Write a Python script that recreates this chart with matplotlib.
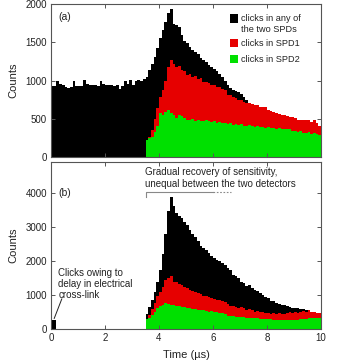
import numpy as np
import matplotlib
matplotlib.use("Agg")
import matplotlib.pyplot as plt
from matplotlib.patches import Rectangle

plt.rcParams['font.family'] = ['Liberation Sans', 'DejaVu Sans']

# histogram bins: 0.1 us wide, 0 .. 10 us
time_edges = np.arange(101) * 0.1

# panel (a)
any_a = [925, 925, 1000, 960, 940, 910, 905, 910, 990, 925,
         925, 930, 1010, 955, 935, 935, 940, 925, 990, 950,
         940, 935, 935, 930, 935, 895, 925, 990, 960, 1005,
         940, 1000, 1005, 990, 1025,
         1050, 1140, 1220, 1310, 1420, 1550, 1660, 1770, 1880, 1940,
         1745, 1725, 1700, 1600, 1510, 1485, 1440, 1400, 1370, 1350,
         1290, 1265, 1240, 1200, 1180, 1150, 1120, 1080, 1040, 990,
         940, 900, 880, 860, 845, 825, 790, 750, 710,
         695, 680, 675, 660, 655, 650, 615, 595, 590, 570,
         565, 550, 545, 530, 525, 520, 505, 485, 480, 485,
         478, 480, 460, 485, 440, 400]
spd1_a = [0] * 36 + [
    260, 350, 500, 640, 790, 880, 1000, 1180, 1265, 1220,
    1180, 1190, 1135, 1120, 1070, 1080, 1050, 1060, 1025, 1030,
    985, 975, 965, 940, 940, 920, 915, 895, 880, 810,
    805, 790, 765, 745, 740, 720, 700, 705, 695, 680,
    675, 660, 655, 650, 615, 595, 590, 570, 565, 550,
    545, 530, 525, 520, 505, 485, 480, 485, 478, 480,
    460, 485, 440, 400]
spd2_a = [0] * 35 + [
    222, 243, 265, 330, 400, 570, 550, 590, 615, 575,
    550, 505, 545, 540, 505, 490, 480, 500, 470, 485,
    470, 465, 480, 470, 455, 470, 450, 460, 445, 440,
    430, 445, 420, 430, 415, 425, 410, 405, 420, 400,
    395, 405, 390, 395, 380, 390, 375, 380, 370, 385,
    365, 370, 360, 365, 340, 345, 330, 335, 320, 315,
    325, 305, 310, 295, 290]

# panel (b)
any_b = [280, 270] + [0] * 33 + [
    460, 640, 850, 1100, 1400, 1750, 2200, 2780, 3460, 3870,
    3600, 3420, 3330, 3250, 3150, 3050, 2900, 2800, 2700, 2600,
    2450, 2370, 2330, 2230, 2150, 2080, 2040, 1990, 1950, 1880,
    1800, 1740, 1600, 1560, 1500, 1400, 1360, 1260, 1300, 1210,
    1160, 1110, 1060, 1010, 960, 910, 830, 815, 770, 740,
    715, 700, 670, 665, 625, 620, 615, 600, 600, 570,
    570, 520, 500, 480, 480]
spd1_b = [0] * 36 + [
    420, 600, 760, 980, 1100, 1250, 1440, 1500, 1550, 1400,
    1380, 1340, 1300, 1250, 1200, 1160, 1110, 1100, 1060, 1020,
    980, 990, 940, 910, 880, 850, 860, 820, 790, 735,
    670, 690, 665, 620, 640, 615, 570, 600, 570, 520,
    540, 520, 500, 470, 470, 440, 470, 440, 470, 440,
    460, 480, 500, 480, 500, 480, 520, 540, 500, 570,
    520, 500, 480, 480]
spd2_b = [0] * 35 + [
    310, 330, 430, 520, 620, 670, 720, 760, 740, 720,
    700, 680, 690, 650, 640, 620, 630, 600, 590, 570,
    560, 560, 545, 520, 530, 510, 500, 485, 470, 440,
    400, 395, 380, 370, 365, 350, 355, 340, 345, 330,
    320, 320, 310, 305, 300, 300, 290, 285, 280, 285,
    275, 280, 275, 280, 275, 285, 280, 290, 300, 310,
    320, 340, 335, 340, 330]

c_any = '#000000'
c_spd1 = '#e60000'
c_spd2 = '#00e000'
txt = '#222222'
spine = '#555555'

fig = plt.figure(figsize=(3.39, 3.61), dpi=100)
ax1 = fig.add_axes([51 / 339, 1 - 157 / 361, 270 / 339, 153 / 361])
ax2 = fig.add_axes([51 / 339, 1 - 329.3 / 361, 270 / 339, 167.6 / 361])

for ax, a, s1, s2 in [(ax1, any_a, spd1_a, spd2_a), (ax2, any_b, spd1_b, spd2_b)]:
    ax.stairs(a, time_edges, fill=True, color=c_any, lw=0)
    ax.stairs(s1, time_edges, fill=True, color=c_spd1, lw=0)
    ax.stairs(s2, time_edges, fill=True, color=c_spd2, lw=0)
    ax.set_xlim(0, 10)
    ax.set_xticks([0, 2, 4, 6, 8, 10])
    ax.tick_params(direction='in', top=True, right=True, length=3, width=0.7,
                   labelsize=7, color=spine, labelcolor=txt, pad=3)
    for sp in ax.spines.values():
        sp.set_color(spine)
        sp.set_linewidth(0.8)
    ax.set_ylabel('Counts', fontsize=8, color=txt, labelpad=5)

ax1.set_ylim(0, 2000)
ax1.set_yticks([0, 500, 1000, 1500, 2000])
ax1.tick_params(labelbottom=False)
ax2.set_ylim(0, 4910)
ax2.set_yticks([0, 1000, 2000, 3000, 4000])
ax2.set_xlabel('Time (\u00b5s)', fontsize=8, color=txt, labelpad=5)

ax1.text(0.026, 0.915, '(a)', transform=ax1.transAxes, fontsize=7.5,
         color=txt, va='center', ha='left')
ax2.text(0.026, 0.816, '(b)', transform=ax2.transAxes, fontsize=7.5,
         color=txt, va='center', ha='left')

# legend drawn by hand
legend_rows = [(c_any, 'clicks in any of\nthe two SPDs', 0.905, 0.869),
               (c_spd1, 'clicks in SPD1', 0.745, 0.745),
               (c_spd2, 'clicks in SPD2', 0.640, 0.640)]
for col, label, sq_y, tx_y in legend_rows:
    ax1.add_patch(Rectangle((0.663, sq_y - 0.028), 0.029, 0.056, color=col,
                            transform=ax1.transAxes, lw=0))
    ax1.text(0.704, tx_y, label, transform=ax1.transAxes, fontsize=6.6,
             color=txt, va='center', ha='left', linespacing=1.2)

# annotations in (b)
ax2.text(3.48, 4430, 'Gradual recovery of sensitivity,\nunequal between the two detectors',
         fontsize=7, color=txt, va='center', ha='left', linespacing=1.15)
ax2.plot([3.52, 3.52, 6.0], [3880, 4030, 4030], color='#888888', lw=0.8)
ax2.plot([6.0, 6.65], [4030, 4030], color='#888888', lw=0.8, ls=(0, (1.5, 1.5)))

ax2.text(0.27, 1320, 'Clicks owing to\ndelay in electrical\ncross-link',
         fontsize=7, color=txt, va='center', ha='left', linespacing=1.1)
ax2.plot([0.12, 0.40], [320, 890], color=txt, lw=0.7)

fig.savefig('out.png', dpi=100)
